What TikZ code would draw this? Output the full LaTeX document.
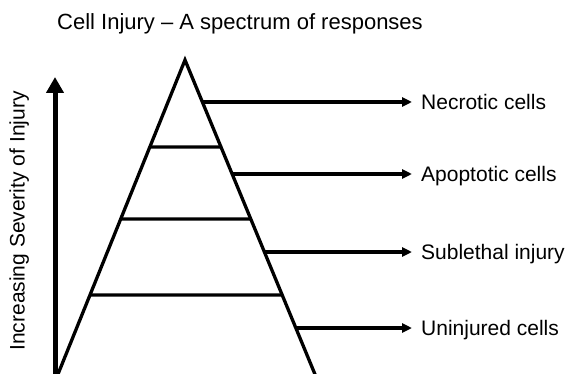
\documentclass[tikz,border=0pt]{standalone}
\usepackage{fontspec}
\setmainfont{Liberation Sans}
\usepackage{xcolor}
\definecolor{cInk}{HTML}{000000}
\usetikzlibrary{positioning,arrows.meta,calc}
\tikzset{
  tri-edge/.style={draw=cInk,line width=3.3pt,line join=miter},
  tier-line/.style={draw=cInk,line width=3.3pt},
  arrow-out/.style={-{Triangle[length=10pt,width=9pt]},line width=3.2pt,draw=cInk},
  arrow-axis/.style={-{Triangle[length=16pt,width=17pt]},line width=5pt,draw=cInk},
  node-label/.style={anchor=west,inner xsep=9pt,inner ysep=0pt,
    font=\fontsize{21}{21}\selectfont,text height=15pt,text depth=0pt},
  node-title/.style={anchor=base west,inner sep=0pt,
    font=\fontsize{22}{22}\selectfont},
}

\begin{document}
\begin{tikzpicture}[x=1pt,y=-1pt]
  \useasboundingbox (0,0) rectangle (567,374);
  \clip (0,0) rectangle (567,374);

  \node[node-title] (title) at (57,30) {Cell Injury -- A spectrum of responses};

  % severity axis
  \coordinate (axis-foot) at (55,374);
  \coordinate (axis-tip) at (55,77);
  \draw[arrow-axis] (axis-foot) -- (axis-tip);
  \node[rotate=90,inner sep=0pt,font=\fontsize{21}{21}\selectfont,
    text height=15pt,text depth=0pt] (sev) at (17,221)
    {Increasing Severity of Injury};

  % pyramid, base runs off the bottom edge
  \coordinate (apex) at (185,60);
  \coordinate (bl) at (54,384);
  \coordinate (br) at (319,384);
  \draw[tri-edge] (bl) -- (apex) -- (br);
  \foreach \y in {147,219,295}
    \draw[tier-line] (intersection of apex--bl and 0,\y--10,\y)
      -- (intersection of apex--br and 0,\y--10,\y);

  % outcomes
  \foreach \y/\name/\txt in {102/necro/Necrotic cells,174/apop/Apoptotic cells,
      252/sublet/Sublethal injury,328/uninj/Uninjured cells} {
    \node[node-label] (\name) at (412,\y) {\txt};
    \coordinate (\name-src) at (intersection of apex--br and 0,\y--10,\y);
    \draw[arrow-out] (\name.west -| \name-src) -- (\name.west);
  }
\end{tikzpicture}
\end{document}
